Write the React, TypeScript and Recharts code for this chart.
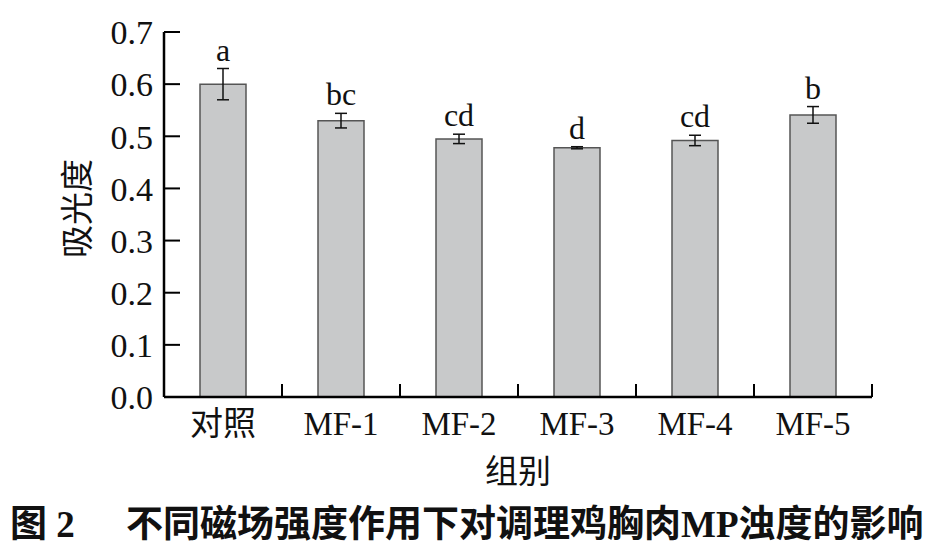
import { BarChart, Bar, XAxis, YAxis, ErrorBar, LabelList } from 'recharts';

const groups = ['对照', 'MF-1', 'MF-2', 'MF-3', 'MF-4', 'MF-5'];
const absorbance = [0.6, 0.53, 0.495, 0.478, 0.492, 0.541];
const sd = [0.03, 0.014, 0.009, 0.002, 0.01, 0.016];
const letters = ['a', 'bc', 'cd', 'd', 'cd', 'b'];
const yTicks = [0, 0.1, 0.2, 0.3, 0.4, 0.5, 0.6, 0.7];

const data = groups.map((g, i) => ({
  group: g,
  value: absorbance[i],
  err: sd[i],
  sig: letters[i],
}));

const FONT = "'Liberation Serif', 'Noto Sans CJK SC', serif";
const Y_GAP = 11;
const X_GAP = 12;

// significance letter sits a little above the top of the error bar
const SigLabel = (props: any) => {
  const { x, y, width, height, index } = props;
  const d = data[index];
  const pxPerUnit = height / d.value;
  const top = y - d.err * pxPerUnit;
  return (
    <text x={x + width / 2} y={top - 8} textAnchor="middle" fontSize={32} fontFamily={FONT} fill="#111">
      {d.sig}
    </text>
  );
};

// group label plus a tick mark on the right edge of the band, pointing up
const XTick = (props: any) => {
  const { x, y, payload, width, visibleTicksCount } = props;
  const band = width / visibleTicksCount;
  const axisY = y - X_GAP;
  const edge = x + band / 2;
  return (
    <g>
      <line x1={edge} x2={edge} y1={axisY} y2={axisY - 13} stroke="#000" strokeWidth={2} />
      <text x={x} y={y} dy="0.8em" textAnchor="middle" fontSize={33} fontFamily={FONT} fill="#111">
        {payload.value}
      </text>
    </g>
  );
};

// y tick: label left of the axis, mark pointing right into the plot
const YTick = (props: any) => {
  const px = Number(props.x);
  const py = Number(props.y);
  const axisX = px + Y_GAP;
  return (
    <g>
      <line x1={axisX} x2={axisX + 16} y1={py} y2={py} stroke="#000" strokeWidth={2} />
      <text x={px} y={py} dy="0.36em" textAnchor="end" fontSize={34} fontFamily={FONT} fill="#111">
        {Number(props.payload.value).toFixed(1)}
      </text>
    </g>
  );
};

const yTitle = (props: any) => {
  const vb = props.viewBox;
  const cx = vb.x + 78;
  const cy = vb.y + vb.height / 2 - 6;
  return (
    <text
      x={cx}
      y={cy}
      transform={`rotate(-90 ${cx} ${cy})`}
      textAnchor="middle"
      dominantBaseline="central"
      fontSize={33}
      fontFamily={FONT}
      fill="#111"
    >
      吸光度
    </text>
  );
};

const xTitle = (props: any) => {
  const vb = props.viewBox;
  return (
    <text x={vb.x + vb.width / 2} y={vb.y + 86} textAnchor="middle" fontSize={33} fontFamily={FONT} fill="#111">
      组别
    </text>
  );
};

const captionStyle = {
  position: 'absolute' as const,
  top: 506,
  fontFamily: FONT,
  fontWeight: 700,
  fontSize: 37,
  lineHeight: 1,
  color: '#111',
  whiteSpace: 'nowrap' as const,
};

export default function App() {
  return (
    <div style={{ position: 'absolute', left: 0, top: 0, width: 936, height: 560, background: '#fff' }}>
      <BarChart width={936} height={500} data={data} margin={{ top: 32, right: 64, left: 0, bottom: 0 }}>
        <XAxis
          dataKey="group"
          height={103}
          tickSize={0}
          tickMargin={X_GAP}
          tickLine={false}
          interval={0}
          axisLine={{ stroke: '#000', strokeWidth: 2.5 }}
          tick={XTick}
          label={xTitle}
        />
        <YAxis
          width={164}
          domain={[0, 0.7]}
          ticks={yTicks}
          interval={0}
          tickSize={0}
          tickMargin={Y_GAP}
          tickLine={false}
          axisLine={{ stroke: '#000', strokeWidth: 2.5 }}
          tick={YTick}
          label={yTitle}
        />
        <Bar dataKey="value" barSize={46} fill="#c8c9ca" stroke="#555" strokeWidth={1.5} isAnimationActive={false}>
          <ErrorBar dataKey="err" width={6} stroke="#111" strokeWidth={1.5} isAnimationActive={false} />
          <LabelList dataKey="sig" content={SigLabel} />
        </Bar>
      </BarChart>
      <div style={{ ...captionStyle, left: 10 }}>图 2</div>
      <div style={{ ...captionStyle, left: 126 }}>不同磁场强度作用下对调理鸡胸肉MP浊度的影响</div>
    </div>
  );
}
